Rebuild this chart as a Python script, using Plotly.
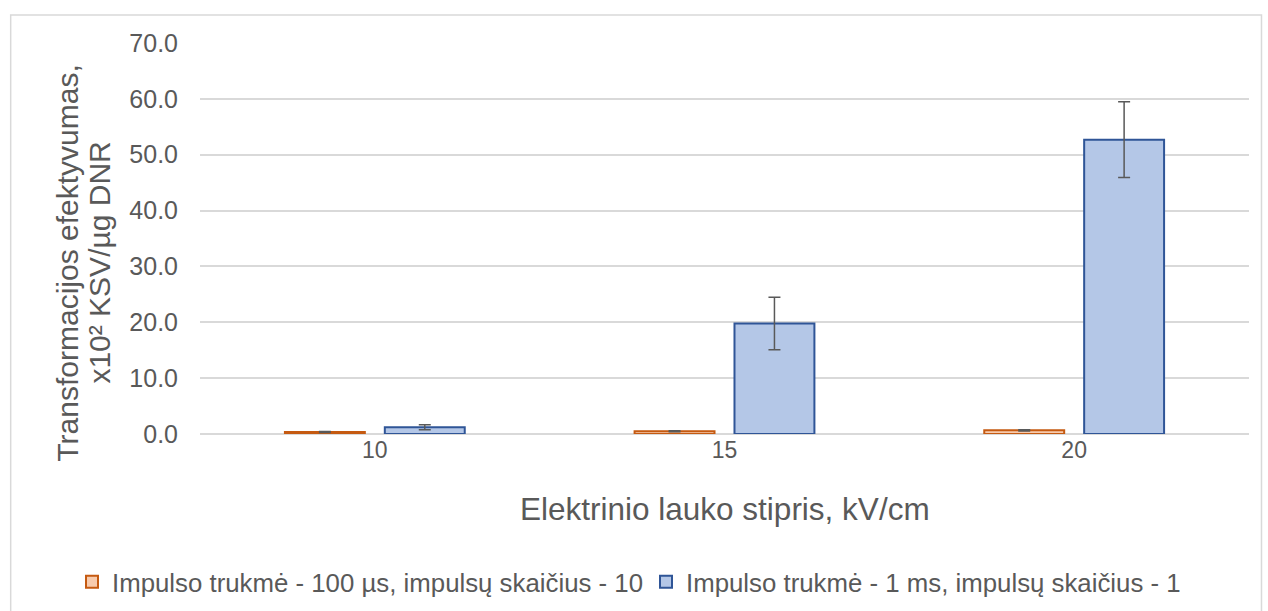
import plotly.graph_objects as go

categories = ["10", "15", "20"]
series_names = [
    "Impulso trukmė - 100 µs, impulsų skaičius - 10",
    "Impulso trukmė - 1 ms, impulsų skaičius - 1",
]
vals_100us = [0.35, 0.5, 0.65]
err_100us = [0.08, 0.1, 0.12]
vals_1ms = [1.2, 19.8, 52.7]
err_1ms = [0.45, 4.7, 6.8]
y_ticks = [0, 10, 20, 30, 40, 50, 60, 70]
x_title = "Elektrinio lauko stipris, kV/cm"
y_title_lines = ["Transformacijos efektyvumas,", "x10² KSV/µg DNR"]

font = "Liberation Sans, Arial, sans-serif"
grey = "#595959"

fig = go.Figure()
fig.add_trace(go.Bar(
    x=categories, y=vals_100us, name=series_names[0], legend="legend",
    marker=dict(color="#F8CBAD", line=dict(color="#C55A11", width=2)),
    error_y=dict(type="data", array=err_100us, color=grey, thickness=1.5, width=6),
))
fig.add_trace(go.Bar(
    x=categories, y=vals_1ms, name=series_names[1], legend="legend2",
    marker=dict(color="#B4C7E7", line=dict(color="#2F5597", width=2)),
    error_y=dict(type="data", array=err_1ms, color=grey, thickness=1.5, width=6),
))

W, H = 1268, 611
L, R, T, B = 199.5, 18.5, 43, 177
pw, ph = W - L - R, H - T - B

def px_x(x):
    return (x - L) / pw

def px_y(y):
    return (H - B - y) / ph

annotations = [
    dict(text=x_title, xref="paper", yref="paper", x=px_x(725), y=px_y(509),
         xanchor="center", yanchor="middle", showarrow=False,
         font=dict(size=31.5, color=grey, family=font)),
    dict(text=y_title_lines[0], xref="paper", yref="paper", x=px_x(66), y=px_y(263),
         xanchor="center", yanchor="middle", showarrow=False, textangle=-90,
         font=dict(size=30, color=grey, family=font)),
    dict(text=y_title_lines[1], xref="paper", yref="paper", x=px_x(98), y=px_y(263),
         xanchor="center", yanchor="middle", showarrow=False, textangle=-90,
         font=dict(size=30, color=grey, family=font)),
]

legend_common = dict(orientation="h", xref="container", yref="container",
                     xanchor="left", y=1 - 582 / H, yanchor="middle",
                     font=dict(size=25.8, color=grey, family=font), itemwidth=30,
                     bgcolor="rgba(0,0,0,0)")

fig.update_layout(
    width=W, height=H,
    margin=dict(l=L, r=R, t=T, b=B, autoexpand=False),
    paper_bgcolor="white", plot_bgcolor="white",
    barmode="group", bargap=0.4286, bargroupgap=0.2,
    font=dict(family=font, color=grey, size=22),
    showlegend=True,
    legend=dict(x=72 / W, **legend_common),
    legend2=dict(x=646 / W, **legend_common),
    annotations=annotations,
    shapes=[dict(type="rect", xref="paper", yref="paper",
                 x0=px_x(10), x1=px_x(1262), y0=px_y(640), y1=px_y(15),
                 line=dict(color="#D9D9D9", width=1.5), fillcolor="rgba(0,0,0,0)", layer="below")],
)
fig.update_xaxes(
    type="category", showgrid=False, showline=False, zeroline=False,
    tickfont=dict(size=23, color=grey), ticks="", ticklabelstandoff=0,
)
fig.update_yaxes(
    range=[0, 70], tickvals=y_ticks, tickformat=".1f",
    showgrid=True, gridcolor="#D9D9D9", gridwidth=1.5,
    zeroline=True, zerolinecolor="#D9D9D9", zerolinewidth=1.5,
    showline=False, ticks="", ticklen=0, ticklabelstandoff=21,
    tickfont=dict(size=25, color=grey),
)
fig.write_html("out.html")
